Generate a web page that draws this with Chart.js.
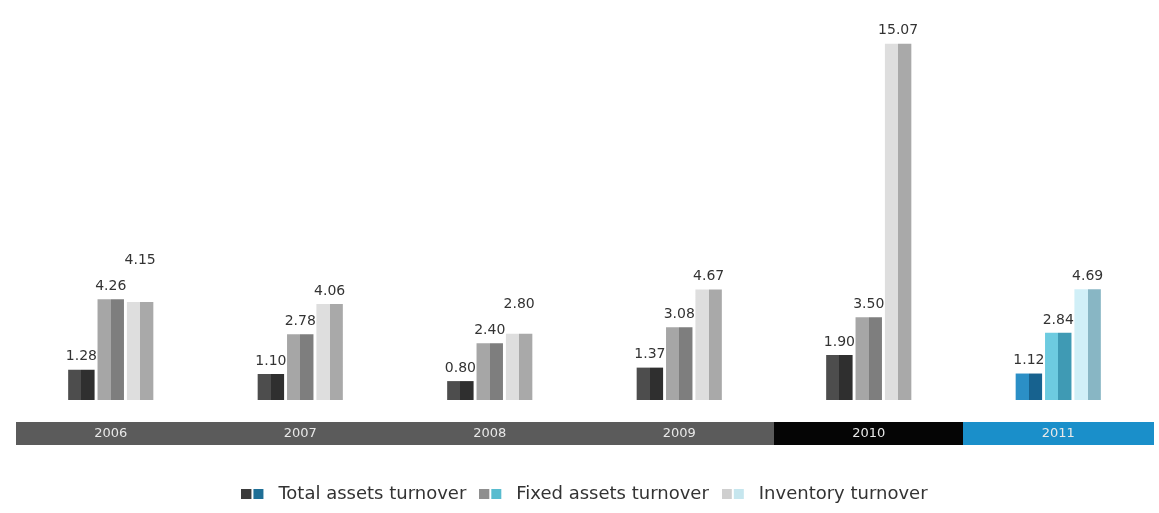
<!DOCTYPE html>
<html>
<head>
<meta charset="utf-8">
<script src="https://cdn.jsdelivr.net/npm/chart.js@4/dist/chart.umd.min.js"></script>
<style>
  html, body { margin: 0; padding: 0; background: #fff; }
  #wrap { width: 1159px; height: 513px; }
</style>
</head>
<body>
<div id="wrap"><canvas id="chart"></canvas></div>
<script>
const years = ['2006', '2007', '2008', '2009', '2010', '2011'];
const totalAssets = [1.28, 1.10, 0.80, 1.37, 1.90, 1.12];
const fixedAssets = [4.26, 2.78, 2.40, 3.08, 3.50, 2.84];
const inventory = [4.15, 4.06, 2.80, 4.67, 15.07, 4.69];
const seriesNames = ['Total assets turnover', 'Fixed assets turnover', 'Inventory turnover'];
const currentYear = '2011';

// [left face, right face] of each bar, gray for past years, blue for the current one
const grayFaces = [['#4d4d4d', '#2f2f2f'], ['#a6a6a6', '#7e7e7e'], ['#dedede', '#a9a9a9']];
const blueFaces = [['#2b8fc6', '#17628f'], ['#6dcbe0', '#3f9ab4'], ['#d0eff7', '#88b6c4']];
const bandColors = ['#5b5b5b', '#5b5b5b', '#5b5b5b', '#5b5b5b', '#050505', '#1a8fca'];
const markColors = [['#3c3c3c', '#1f6f96'], ['#8f8f8f', '#58bccf'], ['#cfcfcf', '#c6e6ee']];

function makeMark(pair) {
    const c = document.createElement('canvas');
    c.width = 28; c.height = 10;
    const g = c.getContext('2d');
    g.fillStyle = pair[0]; g.fillRect(0, 0, 10, 10);
    g.fillStyle = pair[1]; g.fillRect(12, 0, 10, 10);
    return c;
}
const legendMarks = markColors.map(makeMark);

// split each bar into a light and a dark half for the 3D look
const faces = {
    id: 'faces',
    beforeDatasetsDraw(chart) {
        const ctx = chart.ctx;
        chart.data.datasets.forEach((ds, di) => {
            chart.getDatasetMeta(di).data.forEach((bar, i) => {
                const { x, width } = bar.getProps(['x', 'width'], true);
                const pair = years[i] === currentYear ? blueFaces[di] : grayFaces[di];
                const g = ctx.createLinearGradient(x - width / 2, 0, x + width / 2, 0);
                g.addColorStop(0, pair[0]);
                g.addColorStop(0.5, pair[0]);
                g.addColorStop(0.5, pair[1]);
                g.addColorStop(1, pair[1]);
                bar.options = { ...bar.options, backgroundColor: g };
            });
        });
    }
};

// coloured strip behind the year labels
const yearBand = {
    id: 'yearBand',
    beforeDraw(chart) {
        const { ctx, chartArea, scales: { x } } = chart;
        const step = x.width / years.length;
        ctx.save();
        years.forEach((y, i) => {
            const cx = x.getPixelForValue(i);
            ctx.fillStyle = bandColors[i];
            ctx.fillRect(Math.floor(cx - step / 2), chartArea.bottom + 22, Math.ceil(step) + 1, 23);
        });
        ctx.restore();
    }
};

const valueLabels = {
    id: 'valueLabels',
    afterDatasetsDraw(chart) {
        const ctx = chart.ctx;
        ctx.save();
        ctx.font = '14px "DejaVu Sans"';
        ctx.fillStyle = '#333';
        ctx.textAlign = 'center';
        ctx.textBaseline = 'bottom';
        years.forEach((_, i) => {
            let prev = null;
            chart.data.datasets.forEach((ds, di) => {
                const bar = chart.getDatasetMeta(di).data[i];
                const text = ds.data[i].toFixed(2);
                const w = ctx.measureText(text).width;
                let y = bar.y - 6;
                const left = bar.x - w / 2;
                if (prev && left < prev.right && y > prev.top) {
                    y = prev.top - 14;
                }
                ctx.fillText(text, bar.x, y);
                prev = { right: bar.x + w / 2, top: y - 12 };
            });
        });
        ctx.restore();
    }
};

new Chart(document.getElementById('chart'), {
    type: 'bar',
    data: {
        labels: years,
        datasets: [
            { label: seriesNames[0], data: totalAssets },
            { label: seriesNames[1], data: fixedAssets },
            { label: seriesNames[2], data: inventory }
        ].map(ds => ({ ...ds, backgroundColor: '#888', borderWidth: 0, categoryPercentage: 0.465, barPercentage: 0.9 }))
    },
    options: {
        responsive: true,
        maintainAspectRatio: false,
        animation: false,
        layout: { padding: { top: 10, left: 16, right: 6, bottom: 0 } },
        plugins: {
            tooltip: { enabled: false },
            legend: {
                position: 'bottom',
                labels: {
                    usePointStyle: true,
                    pointStyleWidth: 28,
                    padding: 13,
                    color: '#333',
                    font: { family: 'DejaVu Sans', size: 18 },
                    generateLabels: (chart) => chart.data.datasets.map((ds, i) => ({
                        text: ds.label,
                        pointStyle: legendMarks[i],
                        fontColor: '#333',
                        fillStyle: 'transparent',
                        strokeStyle: 'transparent',
                        lineWidth: 0,
                        hidden: false,
                        datasetIndex: i
                    }))
                }
            }
        },
        scales: {
            x: {
                grid: { display: false, drawTicks: false },
                border: { display: false },
                ticks: { color: '#e8e8e8', font: { family: 'DejaVu Sans', size: 13 }, padding: 26 },
                afterFit: (scale) => { scale.height = 72; }
            },
            y: {
                display: false,
                min: 0,
                max: 16.5
            }
        }
    },
    plugins: [faces, yearBand, valueLabels]
});
</script>
</body>
</html>
